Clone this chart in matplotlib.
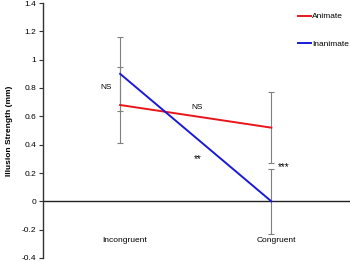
import matplotlib
matplotlib.use("Agg")
import matplotlib.pyplot as plt

conditions = ["Incongruent", "Congruent"]
animate = [0.68, 0.52]
animate_err = [0.27, 0.25]
inanimate = [0.90, 0.0]
inanimate_err = [0.26, 0.23]
yticks = [-0.4, -0.2, 0, 0.2, 0.4, 0.6, 0.8, 1, 1.2, 1.4]

plt.rcParams['font.family'] = ['Liberation Sans', 'DejaVu Sans']

fig = plt.figure(figsize=(3.5, 2.61), dpi=100)
ax = fig.add_axes([43/350, 3/261, 307/350, 255/261])

xs = list(range(len(conditions)))
ax.errorbar(xs, animate, yerr=animate_err, fmt='none', ecolor='#808080',
            elinewidth=0.8, capsize=2, capthick=0.8, zorder=1)
ax.errorbar(xs, inanimate, yerr=inanimate_err, fmt='none', ecolor='#808080',
            elinewidth=0.8, capsize=2, capthick=0.8, zorder=1)
ax.plot(xs, animate, color='#e8161b', lw=1.4, label='Animate', zorder=3)
ax.plot(xs, inanimate, color='#1a1ad6', lw=1.4, label='Inanimate', zorder=3)
ax.axhline(0, color='#222222', lw=1.0, zorder=2)

ax.set_xlim(-0.51, 1.52)
ax.set_ylim(-0.4, 1.4)
ax.set_yticks(yticks)
ax.set_yticklabels(['-0.4', '-0.2', '0', '0.2', '0.4', '0.6', '0.8', '1', '1.2', '1.4'])
ax.tick_params(axis='y', labelsize=6, length=3, width=0.8, direction='out', pad=2,
               colors='#333333', labelcolor='black')
ax.set_xticks([])
for s in ['top', 'right', 'bottom']:
    ax.spines[s].set_visible(False)
ax.spines['left'].set_linewidth(1.0)
ax.spines['left'].set_color('#333333')

ax.set_ylabel('Illusion Strength (mm)', fontsize=6, fontweight='bold', labelpad=6)

for i, c in enumerate(conditions):
    ax.text(xs[i] + 0.03, -0.28, c, fontsize=6, ha='center', va='center')

ax.text(-0.09, 0.80, 'NS', fontsize=6, ha='center', va='center')
ax.text(0.51, 0.66, 'NS', fontsize=6, ha='center', va='center')
ax.text(0.51, 0.30, '**', fontsize=7, ha='center', va='center')
ax.text(1.08, 0.24, '***', fontsize=7, ha='center', va='center')

ax.legend(loc='upper left', bbox_to_anchor=(0.81, 0.985), frameon=False, fontsize=6,
          handlelength=1.6, handletextpad=0.15, labelspacing=2.35, borderaxespad=0.3)

fig.savefig('out.png', dpi=100)
